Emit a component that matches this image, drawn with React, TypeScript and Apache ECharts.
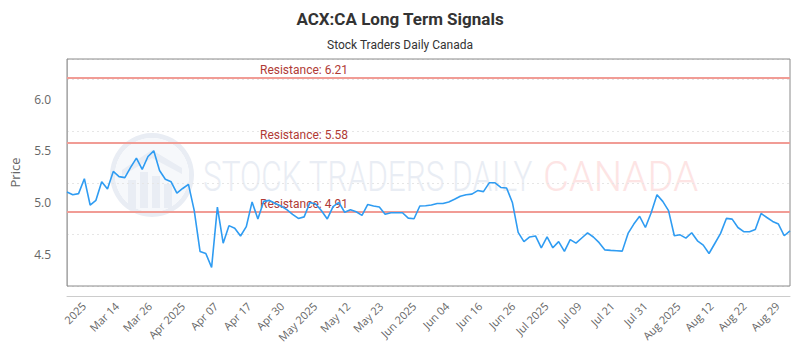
import React, { useEffect, useRef } from "react";
import * as echarts from "echarts";

const titleText = "ACX:CA Long Term Signals";
const subtitleText = "Stock Traders Daily Canada";

// daily closes, Mar 3 2025 – Aug 29 2025 (index = trading day)
const prices: number[] = [
  5.1, 5.075, 5.085, 5.23, 4.975, 5.02, 5.2, 5.13, 5.3, 5.25,
  5.24, 5.34, 5.43, 5.32, 5.445, 5.5, 5.31, 5.225, 5.2, 5.09,
  5.135, 5.175, 4.92, 4.525, 4.505, 4.37, 4.955, 4.605, 4.775, 4.75,
  4.675, 4.765, 5.005, 4.84, 5.01, 5.02, 4.99, 4.965, 4.93, 4.885,
  4.845, 4.86, 5.0, 4.985, 4.92, 4.84, 4.96, 5.0, 4.905, 4.93,
  4.91, 4.875, 4.98, 4.965, 4.955, 4.885, 4.9, 4.9, 4.9, 4.848,
  4.842, 4.965, 4.968, 4.975, 4.99, 4.99, 5.005, 5.03, 5.06, 5.075,
  5.08, 5.115, 5.105, 5.19, 5.19, 5.145, 5.14, 5.0, 4.71, 4.62,
  4.665, 4.675, 4.56, 4.665, 4.56, 4.62, 4.525, 4.64, 4.605, 4.655,
  4.705, 4.665, 4.61, 4.54, 4.535, 4.532, 4.528, 4.7, 4.79, 4.865,
  4.757, 4.9, 5.075, 5.01, 4.92, 4.677, 4.686, 4.654, 4.706, 4.628,
  4.586, 4.505, 4.602, 4.7, 4.845, 4.838, 4.757, 4.716, 4.716, 4.738,
  4.893, 4.854, 4.816, 4.79, 4.677, 4.725,
];

const resistanceLevels: number[] = [6.21, 5.58, 4.91];

const xTickLabels: string[] = [
  "2025", "Mar 14", "Mar 26", "Apr 2025", "Apr 07", "Apr 17", "Apr 30",
  "May 2025", "May 12", "May 23", "Jun 2025", "Jun 04", "Jun 16", "Jun 26",
  "Jul 2025", "Jul 09", "Jul 21", "Jul 31", "Aug 2025", "Aug 12", "Aug 22", "Aug 29",
];

const yTickValues: number[] = [4.5, 5.0, 5.5, 6.0];

const yMin = 4.19;
const yMax = 6.39;
const yInterval = 0.5;

// label placement along the ordinal (index) axis
const tickStart = 2.9;
const tickStep = 5.71;

export default function App() {
  const ref = useRef<HTMLDivElement>(null);

  useEffect(() => {
    if (!ref.current) return;
    document.body.style.margin = "0";
    const chart = echarts.init(ref.current, null, { renderer: "svg" });

    const seriesData = prices.map((v, i) => [i, v]);
    const tickValues = xTickLabels.map((_, k) => tickStart + k * tickStep);

    const wmColor = "#e9edf4";

    chart.setOption({
      animation: false,
      backgroundColor: "#ffffff",
      title: [
        {
          text: titleText,
          left: "center",
          top: 5,
          textStyle: { fontFamily: "Roboto", fontSize: 17, fontWeight: "bold", color: "#333333" },
        },
        {
          text: subtitleText,
          left: "center",
          top: 34,
          textStyle: { fontFamily: "Roboto", fontSize: 12, fontWeight: "normal", color: "#333333" },
        },
      ],
      graphic: [
        {
          type: "group",
          silent: true,
          z: 0,
          children: [
            { type: "ring", shape: { cx: 152, cy: 175, r: 42, r0: 37 }, style: { fill: wmColor } },
            { type: "circle", shape: { cx: 152, cy: 175, r: 37 }, style: { fill: "#f6f8fb" } },
            { type: "polygon", shape: { points: [[122, 170], [152, 150], [182, 168], [182, 174], [152, 158], [122, 176]] }, style: { fill: wmColor } },
            { type: "rect", shape: { x: 128, y: 180, width: 8, height: 28 }, style: { fill: wmColor } },
            { type: "rect", shape: { x: 140, y: 172, width: 8, height: 36 }, style: { fill: wmColor } },
            { type: "rect", shape: { x: 152, y: 176, width: 8, height: 32 }, style: { fill: wmColor } },
            { type: "rect", shape: { x: 164, y: 184, width: 8, height: 24 }, style: { fill: wmColor } },
          ],
        },
        {
          type: "text",
          silent: true,
          x: 203,
          y: 177,
          scaleX: 0.75,
          z: 0,
          style: {
            text: "STOCK TRADERS DAILY",
            fontFamily: "Roboto",
            fontWeight: 300,
            fontSize: 42,
            fill: wmColor,
            verticalAlign: "middle",
            align: "left",
          },
        },
        {
          type: "text",
          silent: true,
          x: 543,
          y: 177,
          scaleX: 0.95,
          z: 0,
          style: {
            text: "CANADA",
            fontFamily: "Roboto",
            fontWeight: 300,
            fontSize: 42,
            fill: "#fde4e4",
            verticalAlign: "middle",
            align: "left",
          },
        },
      ],
      grid: {
        left: 63,
        right: 10,
        top: 59,
        bottom: 64,
        show: true,
        borderColor: "#8a8a8a",
        borderWidth: 1,
        backgroundColor: "transparent",
        z: 3,
      },
      xAxis: {
        type: "value",
        min: 0,
        max: prices.length - 1,
        offset: 10,
        axisLine: { show: true, lineStyle: { color: "#cccccc", width: 1 } },
        axisTick: { show: false },
        splitLine: { show: false },
        axisLabel: {
          customValues: tickValues,
          rotate: 45,
          margin: 8,
          color: "#666666",
          fontFamily: "Open Sans",
          fontSize: 11,
          formatter: (val: number) => {
            const k = Math.round((val - tickStart) / tickStep);
            return xTickLabels[k] ?? "";
          },
        },
      },
      yAxis: {
        type: "value",
        min: yMin,
        max: yMax,
        interval: yInterval,
        offset: 10,
        name: "Price",
        nameLocation: "middle",
        nameGap: 36,
        nameTextStyle: { color: "#666666", fontFamily: "Open Sans", fontSize: 13 },
        axisLine: { show: true, lineStyle: { color: "#cccccc", width: 1 } },
        axisTick: { show: false },
        axisLabel: {
          customValues: yTickValues,
          color: "#666666",
          fontFamily: "Open Sans",
          fontSize: 12,
          margin: 6,
          formatter: (v: number) => v.toFixed(1),
        },
        splitLine: { show: true, lineStyle: { color: "#e6e6e6", type: [2, 3], width: 1 } },
      },
      series: [
        {
          type: "line",
          data: seriesData,
          showSymbol: false,
          symbol: "none",
          z: 5,
          lineStyle: { color: "#2f9cf2", width: 1.6 },
          markLine: {
            silent: true,
            symbol: "none",
            z: 4,
            lineStyle: { color: "#f19c95", width: 2, type: "solid" },
            label: {
              show: true,
              position: "insideStartTop",
              distance: [193, 2],
              color: "#b03a35",
              fontFamily: "Roboto",
              fontSize: 12,
            },
            data: resistanceLevels.map((lv) => ({
              yAxis: lv,
              label: { formatter: "Resistance: " + lv.toFixed(2) },
            })),
          },
        },
      ],
    });

    return () => chart.dispose();
  }, []);

  return <div ref={ref} style={{ width: 800, height: 350 }} />;
}
